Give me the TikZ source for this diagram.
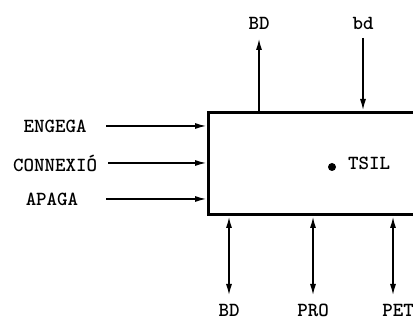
\documentclass[tikz,border=0pt]{standalone}
\usepackage{fontspec}
\usetikzlibrary{arrows.meta}
\begin{document}
\begin{tikzpicture}[x=1pt,y=-1pt,
  lbl/.style={font=\ttfamily\bfseries\fontsize{20}{20}\selectfont, inner sep=0pt},
  tip/.tip={Latex[length=12pt,width=6pt]},
  conn/.style={line width=1.8pt, -tip},
  dconn/.style={line width=1.8pt, tip-tip},
  boxst/.style={draw, line width=3pt, rectangle, inner sep=0pt}]
\useasboundingbox (0,0) rectangle (413,320);
\clip (0,0) rectangle (413,320);
\node[boxst, minimum width=220pt, minimum height=102pt, anchor=north west] (box) at (207,111) {};
% left inputs
\node[lbl] (eng) at (55,126) {ENGEGA};
\node[lbl] (con) at (55,163) {CONNEXIÓ};
\node[lbl] (apa) at (52,199) {APAGA};
\coordinate (engs) at (106,126);
\coordinate (cons) at (108,163);
\coordinate (apas) at (106,199);
\draw[conn] (engs) -- (engs -| box.west);
\draw[conn] (cons) -- (cons -| box.west);
\draw[conn] (apas) -- (apas -| box.west);
% top
\node[lbl] (bdt) at (259,23) {BD};
\node[lbl] (bdl) at (363,23) {bd};
\coordinate (bdte) at (259,38);
\coordinate (bdls) at (363,38);
\draw[conn] (bdte |- box.north) -- (bdte);
\draw[conn] (bdls) -- (bdls |- box.north);
% bottom
\node[lbl] (bdb) at (229,310) {BD};
\node[lbl] (pro) at (313,310) {PRO};
\node[lbl] (pet) at (398,310) {PET};
\coordinate (bdbe) at (229,296);
\coordinate (proe) at (313,296);
\coordinate (pete) at (393,296);
\draw[dconn] (bdbe |- box.south) -- (bdbe);
\draw[dconn] (proe |- box.south) -- (proe);
\draw[dconn] (pete |- box.south) -- (pete);
% TSIL
\fill (332,167) circle (4pt);
\node[lbl, anchor=west] (tsil) at (348,163) {TSIL};
\end{tikzpicture}
\end{document}
